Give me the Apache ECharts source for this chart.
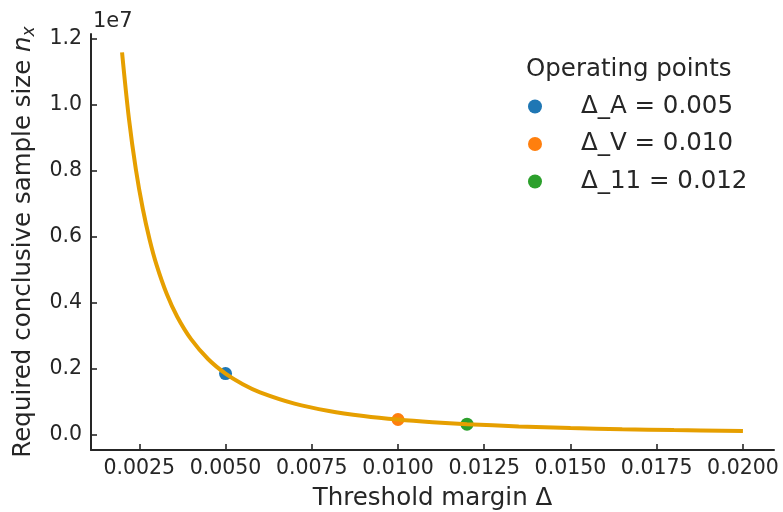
<!DOCTYPE html>
<html><head><meta charset="utf-8">
<script src="https://cdn.jsdelivr.net/npm/echarts@6/dist/echarts.min.js"></script>
<style>html,body{margin:0;padding:0;background:#fff}#c{width:783px;height:512px}</style>
</head><body><div id="c"></div>
<script>
// Curve: required sample size vs threshold margin
const curveDelta = [0.0020,0.0022,0.0024,0.0026,0.0028,0.0030,0.0033,0.0036,0.0040,0.0045,0.0050,0.0055,0.0060,0.0070,0.0080,0.0090,0.0100,0.0110,0.0120,0.0135,0.0150,0.0165,0.0180,0.0200];
const curveN = [11575000,9566000,8038000,6849000,5906000,5144000,4252000,3573000,2894000,2286000,1852000,1531000,1286000,945000,723000,572000,463000,383000,322000,254000,206000,170000,143000,116000];
// Operating points
const pointNames = ['Δ_A = 0.005','Δ_V = 0.010','Δ_11 = 0.012'];
const pointDelta = [0.005,0.010,0.012];
const pointN = [1852000,463000,322000];
const pointColors = ['#1f77b4','#ff7f0e','#2ca02c'];
// Ticks
const xTicks = [0.0025,0.0050,0.0075,0.0100,0.0125,0.0150,0.0175,0.0200];
const yTicks = [0,2e6,4e6,6e6,8e6,1e7,1.2e7];

const txt = '#262626';
const font = 'DejaVu Sans';
const chart = echarts.init(document.getElementById('c'), null, {renderer:'canvas'});
const series = [];
pointNames.forEach((n,i)=>series.push({
  type:'scatter', name:n, data:[[pointDelta[i],pointN[i]]], symbol:'circle', symbolSize:13,
  itemStyle:{color:pointColors[i], opacity:1}, z:2
}));
series.push({
  type:'line', data: curveDelta.map((d,i)=>[d,curveN[i]]), smooth:0.35, showSymbol:false,
  lineStyle:{color:'#E69F00', width:4}, z:10, silent:true
});
chart.setOption({
  animation:false,
  textStyle:{fontFamily:font, color:txt},
  grid:{left:91, right:9, top:34, bottom:62, containLabel:false, outerBoundsMode:'none'},
  xAxis:{type:'value', min:0.0011, max:0.0209,
    name:'Threshold margin Δ', nameLocation:'middle', nameGap:36,
    nameTextStyle:{fontSize:24.5, color:txt, fontFamily:font},
    axisLine:{onZero:false, lineStyle:{color:txt, width:2}},
    axisTick:{customValues:xTicks, length:6, inside:true, lineStyle:{color:txt, width:1.6}},
    axisLabel:{customValues:xTicks, fontSize:20.5, color:txt, fontFamily:font, margin:8,
      formatter:v=>v.toFixed(4)},
    splitLine:{show:false}},
  yAxis:{type:'value', min:-460000, max:12130000,
    name:'{t|Required conclusive sample size }{i|n}{s|x}', nameLocation:'middle', nameGap:51, nameRotate:90,
    nameTextStyle:{fontSize:24.5, color:txt, fontFamily:font,
      rich:{t:{fontSize:24.5, fontFamily:font, color:txt},
            i:{fontSize:24.5, fontFamily:font, fontStyle:'italic', color:txt},
            s:{fontSize:17, fontFamily:font, fontStyle:'italic', color:txt, padding:[12,0,0,0]}}},
    axisLine:{show:true, onZero:false, lineStyle:{color:txt, width:2}},
    axisTick:{show:true, customValues:yTicks, length:6, inside:true, lineStyle:{color:txt, width:1.6}},
    axisLabel:{customValues:yTicks, fontSize:20.5, color:txt, fontFamily:font, margin:9,
      formatter:v=>(v/1e7).toFixed(1)},
    splitLine:{show:false}},
  legend:{data:pointNames, orient:'vertical', left:523, top:89, itemWidth:14, itemHeight:14,
    icon:'circle', itemGap:12.5, selectedMode:false,
    formatter:n=>'{p|}'+n,
    textStyle:{fontSize:24.5, color:txt, fontFamily:font, rich:{p:{width:34}}}},
  graphic:[
    {type:'text', left:93, top:11, style:{text:'1e7', fontSize:21, fontFamily:font, fill:txt}},
    {type:'text', left:526, top:57, style:{text:'Operating points', fontSize:24.5, fontFamily:font, fill:txt}}
  ],
  series
});
</script></body></html>
